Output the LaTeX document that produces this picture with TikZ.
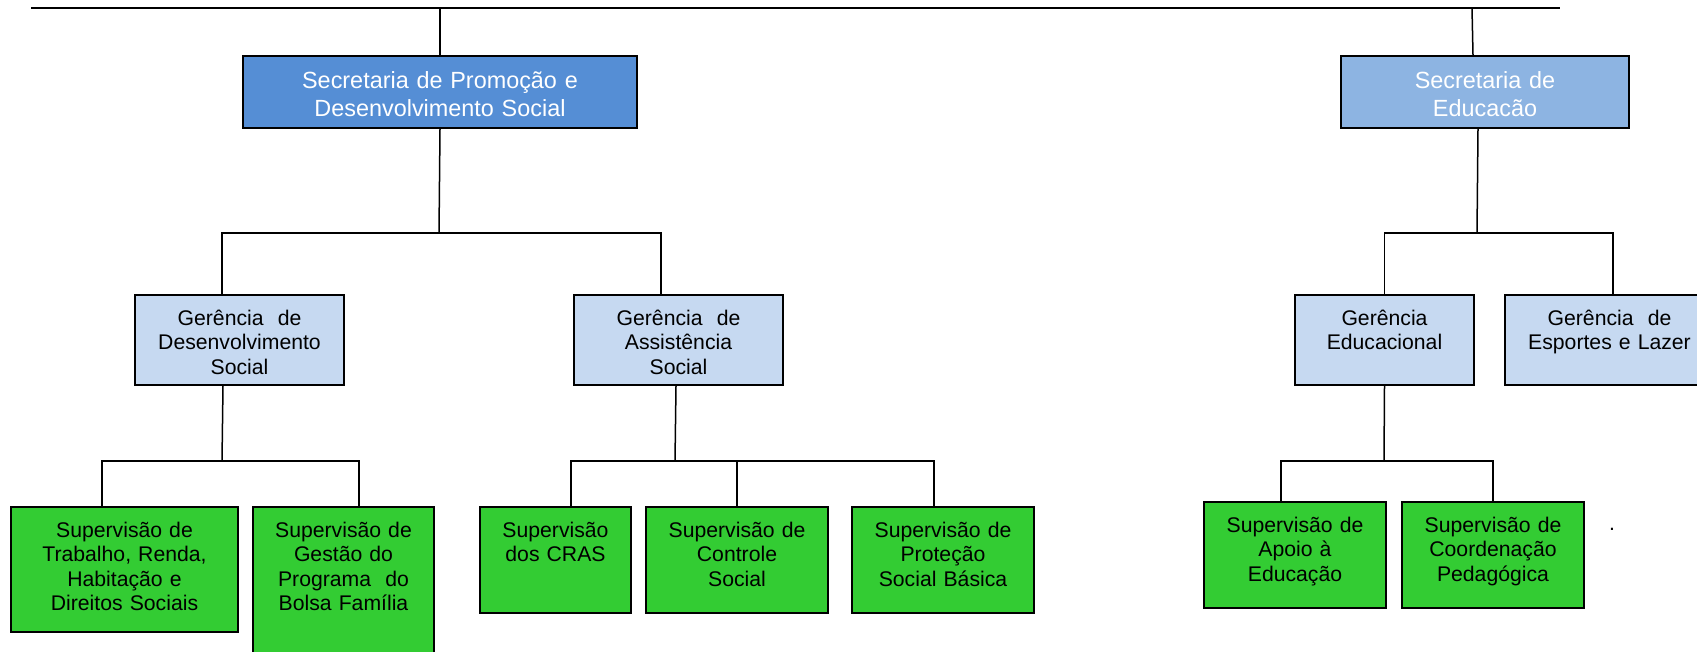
\documentclass[tikz,border=0pt]{standalone}
\usepackage{fontspec}
\setmainfont{Liberation Sans}
\usepackage{xcolor}
\usepackage{tikz}
\usetikzlibrary{positioning}

\definecolor{secblue}{RGB}{85,142,213}
\definecolor{edublue}{RGB}{141,180,226}
\definecolor{gerblue}{RGB}{198,217,241}
\definecolor{supgreen}{RGB}{51,204,51}

\begin{document}
\begin{tikzpicture}[x = 0.5pt, y = -0.5pt,
  box/.style = {draw, line width = 1pt, anchor = north west, inner sep = 0pt, align = center},
  sec/.style = {box, text = white, font = \fontsize{11.7}{13.8}\selectfont, text height = 16.5pt, text depth = 19.5pt},
  ger/.style = {box, fill = gerblue, font = \fontsize{10.6}{12.2}\selectfont, text height = 15.25pt, text depth = 29.75pt},
  sup/.style = {box, fill = supgreen, font = \fontsize{10.6}{12.2}\selectfont, text height = 15.25pt},
  link/.style = {line width = 0.75pt}]
  \useasboundingbox (0, 0) rectangle (1697, 652);

  \node[sec, fill = secblue, text width = 197pt] (sp) at (242, 55){
    Secretaria de Promoção e\\Desenvolvimento Social
  };

  \node[sec, fill = edublue, text width = 144pt] (se) at (1340, 55){
    Secretaria de\\Educacão
  };

  \node[ger, text width = 104.5pt] (gds) at (134, 294){
    Gerência~ de\\Desenvolvimento\\Social
  };

  \node[ger, text width = 104.5pt] (gas) at (573, 294){
    Gerência~ de\\Assistência\\Social
  };

  \node[ger, text width = 89.5pt] (ge) at (1294, 294){
    Gerência\\Educacional
  };

  \node[ger, text width = 104.5pt] (gel) at (1504, 294){
    Gerência~ de\\Esportes e Lazer
  };

  \node[sup, text width = 113.5pt, text depth = 47.25pt] (trab) at (10, 506){
    Supervisão de\\Trabalho, Renda,\\Habitação e\\Direitos Sociais
  };

  \node[sup, text width = 90.5pt, text depth = 64.75pt] (gestao) at (252, 506){
    Supervisão de\\Gestão do\\Programa~ do\\Bolsa Família
  };

  \node[sup, text width = 75.5pt, text depth = 37.75pt] (cras) at (479, 506){
    Supervisão\\dos CRAS
  };

  \node[sup, text width = 91pt, text depth = 37.75pt] (controle) at (645, 506){
    Supervisão de\\Controle\\Social
  };

  \node[sup, text width = 91pt, text depth = 37.75pt] (protecao) at (851, 506){
    Supervisão de\\Proteção\\Social Básica
  };

  \node[sup, text width = 91pt, text depth = 37.75pt] (apoio) at (1203, 501){
    Supervisão de\\Apoio à\\Educação
  };

  \node[sup, text width = 91pt, text depth = 37.75pt] (coord) at (1401, 501){
    Supervisão de\\Coordenação\\Pedagógica
  };

  \node[font = \fontsize{10.6}{12.2}\selectfont, inner sep = 0pt] (ponto) at (1612, 529){.};

  % pontos de juncao
  \coordinate (topL) at (31, 8);
  \coordinate (topR) at (1560, 8);
  \coordinate (jse) at (1472, 8);
  \coordinate (j1) at (439, 233);
  \coordinate (j2) at (1477, 233);
  \coordinate (j3) at (222, 461);
  \coordinate (j4) at (675, 461);
  \coordinate (j5) at (1384, 461);

  \draw[link] (topL) -- (topR);
  \draw[link] (sp.north) -- (sp.north |- topL);
  \draw[link] ([xshift = -6pt]se.north) -- (jse);

  \draw[link] (sp.south) -- (j1);
  \draw[link] ([xshift = -8.75pt]gds.north) |- (j1) -| ([xshift = -8.75pt]gas.north);
  \draw[link] ([xshift = -3.5pt]se.south) -- (j2);
  \draw[link] (ge.north) |- (j2) -| ([xshift = 1.75pt]gel.north);

  \draw[link] ([xshift = -8.25pt]gds.south) -- (j3);
  \draw[link] ([xshift = -11.25pt]trab.north) |- (j3) -| ([xshift = 7.75pt]gestao.north);
  \draw[link] ([xshift = -1.25pt]gas.south) -- (j4);
  \draw[link] ([xshift = 7.75pt]cras.north) |- (j4) -| ([xshift = -4.5pt]protecao.north);
  \draw[link] (controle.north) -- (controle.north |- j4);
  \draw[link] (ge.south) -- (j5);
  \draw[link] ([xshift = -7pt]apoio.north) |- (j5) -| (coord.north);
\end{tikzpicture}
\end{document}
